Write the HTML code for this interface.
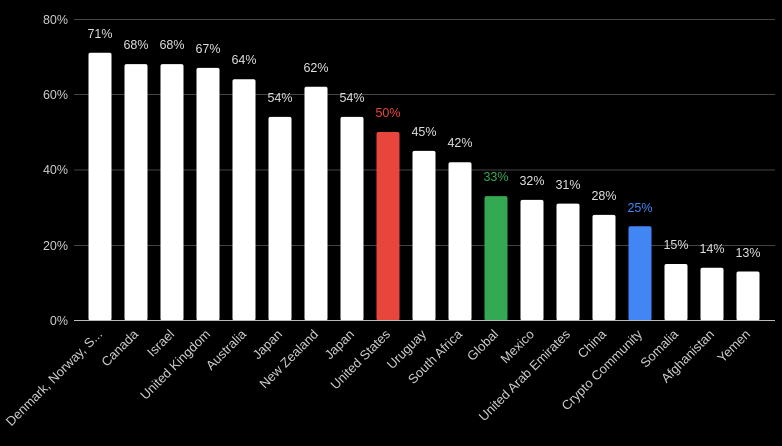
<!DOCTYPE html>
<html><head><style>body{margin:0;background:#000}svg{display:block}text{font-family:"Liberation Sans",sans-serif}</style></head>
<body>
<svg width="782" height="446" viewBox="0 0 782 446" xmlns="http://www.w3.org/2000/svg">
<rect width="782" height="446" fill="#000"/>
<g stroke="#444" stroke-width="1">
<line x1="74" y1="19.5" x2="775" y2="19.5"/>
<line x1="74" y1="94.5" x2="775" y2="94.5"/>
<line x1="74" y1="170" x2="775" y2="170"/>
<line x1="74" y1="245.5" x2="775" y2="245.5"/>
</g>
<g fill="#ccc" font-size="12.5" text-anchor="end">
<text x="68" y="24">80%</text><text x="68" y="99">60%</text><text x="68" y="174">40%</text><text x="68" y="250">20%</text><text x="68" y="325">0%</text>
</g>
<g fill="#fff">
<rect x="88.5" y="52.8" width="23" height="267.7" rx="2"/>
<rect x="124.5" y="64.1" width="23" height="256.4" rx="2"/>
<rect x="160.5" y="64.1" width="23" height="256.4" rx="2"/>
<rect x="196.5" y="67.9" width="23" height="252.6" rx="2"/>
<rect x="232.5" y="79.2" width="23" height="241.3" rx="2"/>
<rect x="268.5" y="116.9" width="23" height="203.6" rx="2"/>
<rect x="304.5" y="86.8" width="23" height="233.7" rx="2"/>
<rect x="340.5" y="116.9" width="23" height="203.6" rx="2"/>
<rect x="376.5" y="132" width="23" height="188.5" rx="2" fill="#e8453c"/>
<rect x="412.5" y="150.9" width="23" height="169.6" rx="2"/>
<rect x="448.5" y="162.2" width="23" height="158.3" rx="2"/>
<rect x="484.5" y="196.1" width="23" height="124.4" rx="2" fill="#34a853"/>
<rect x="520.5" y="199.9" width="23" height="120.6" rx="2"/>
<rect x="556.5" y="203.6" width="23" height="116.9" rx="2"/>
<rect x="592.5" y="214.9" width="23" height="105.6" rx="2"/>
<rect x="628.5" y="226.3" width="23" height="94.2" rx="2" fill="#4285f4"/>
<rect x="664.5" y="264" width="23" height="56.5" rx="2"/>
<rect x="700.5" y="267.7" width="23" height="52.8" rx="2"/>
<rect x="736.5" y="271.5" width="23" height="49" rx="2"/>
</g>
<g fill="#ddd" font-size="12.5" text-anchor="middle">
<text x="100" y="38">71%</text>
<text x="136" y="49">68%</text>
<text x="172" y="49">68%</text>
<text x="208" y="53">67%</text>
<text x="244" y="64">64%</text>
<text x="280" y="102">54%</text>
<text x="316" y="72">62%</text>
<text x="352" y="102">54%</text>
<text x="388" y="117" fill="#e8453c">50%</text>
<text x="424" y="136">45%</text>
<text x="460" y="147">42%</text>
<text x="496" y="181" fill="#34a853">33%</text>
<text x="532" y="185">32%</text>
<text x="568" y="189">31%</text>
<text x="604" y="200">28%</text>
<text x="640" y="212" fill="#4285f4">25%</text>
<text x="676" y="249">15%</text>
<text x="712" y="253">14%</text>
<text x="748" y="257">13%</text>
</g>
<line x1="74" y1="320.5" x2="775" y2="320.5" stroke="#bbb" stroke-width="1"/>
<g fill="#ccc" font-size="13" text-anchor="end">
<text transform="translate(103,335) rotate(-45)">Denmark, Norway, S...</text>
<text transform="translate(139,335) rotate(-45)">Canada</text>
<text transform="translate(175,335) rotate(-45)">Israel</text>
<text transform="translate(211,335) rotate(-45)">United Kingdom</text>
<text transform="translate(247,335) rotate(-45)">Australia</text>
<text transform="translate(283,335) rotate(-45)">Japan</text>
<text transform="translate(319,335) rotate(-45)">New Zealand</text>
<text transform="translate(355,335) rotate(-45)">Japan</text>
<text transform="translate(391,335) rotate(-45)">United States</text>
<text transform="translate(427,335) rotate(-45)">Uruguay</text>
<text transform="translate(463,335) rotate(-45)">South Africa</text>
<text transform="translate(499,335) rotate(-45)">Global</text>
<text transform="translate(535,335) rotate(-45)">Mexico</text>
<text transform="translate(571,335) rotate(-45)">United Arab Emirates</text>
<text transform="translate(607,335) rotate(-45)">China</text>
<text transform="translate(643,335) rotate(-45)">Crypto Community</text>
<text transform="translate(679,335) rotate(-45)">Somalia</text>
<text transform="translate(715,335) rotate(-45)">Afghanistan</text>
<text transform="translate(751,335) rotate(-45)">Yemen</text>
</g>
</svg>
</body></html>
